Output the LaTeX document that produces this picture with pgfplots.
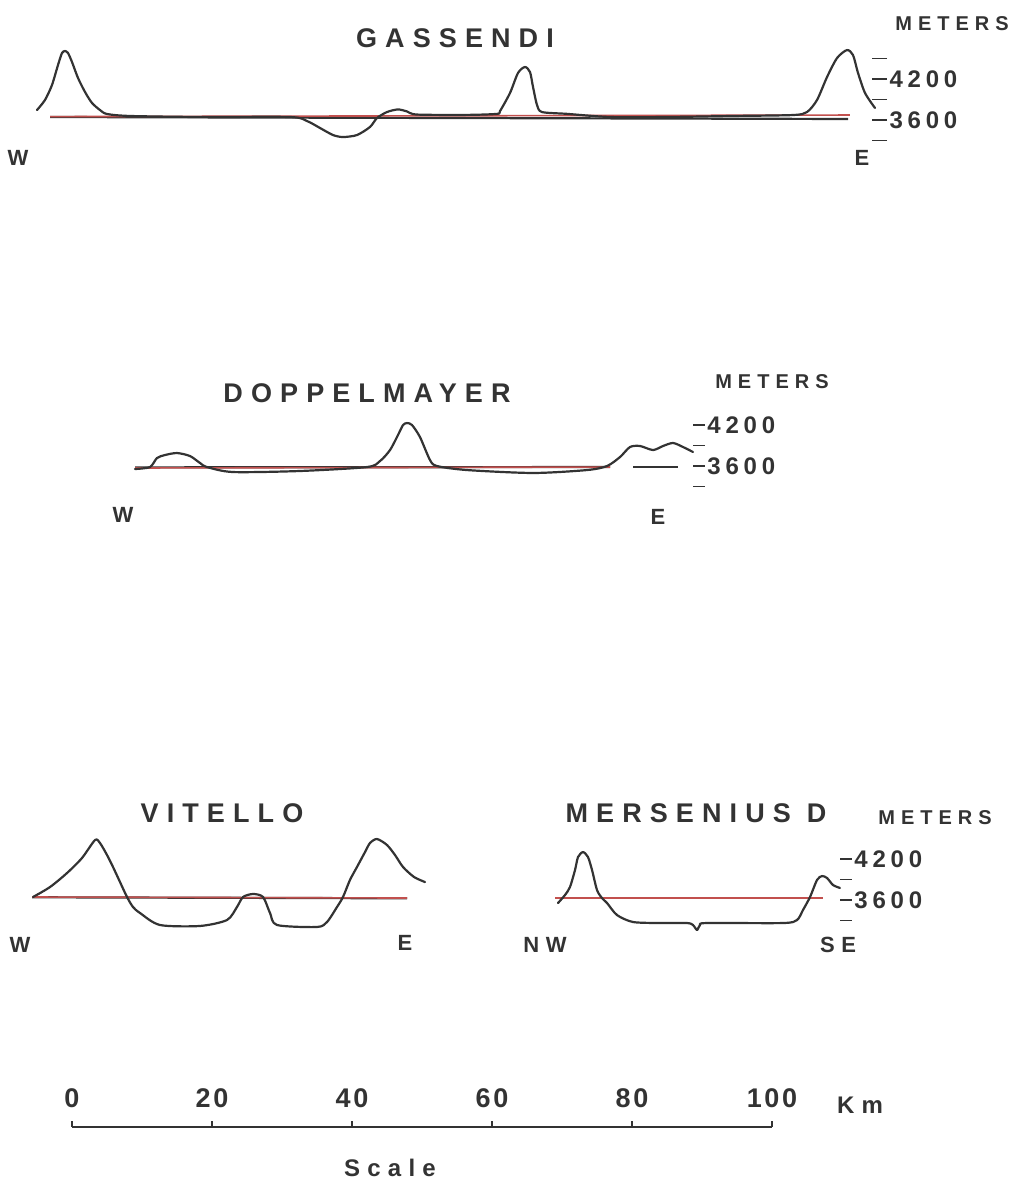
\documentclass[border=0pt]{standalone}
\usepackage{pgfplots}
\pgfplotsset{compat=1.18}
\usepackage{fontspec}
\setmainfont{Liberation Sans}
\newfontfamily\ls[LetterSpace=30]{Liberation Sans}
\newfontfamily\lsd[LetterSpace=20]{Liberation Sans}
\newfontfamily\lsn[LetterSpace=10]{Liberation Sans}
\definecolor{ink}{HTML}{333333}
\definecolor{redline}{HTML}{C2504E}

\pgfplotsset{
  profile/.style={
    x=3.5pt, y=0.034167pt, xmin=-10, clip=false,
    axis x line=none, axis y line*=right, y axis line style={draw=none},
    tick align=outside, major tick style={ink, line width=0.9pt},
    yticklabel style={font=\lsd\bfseries\fontsize{12}{12}\selectfont, text=ink, anchor=west, inner sep=1pt},
  },
  prof/.style={ink, line width=1.1pt, smooth, tension=0.45, line join=round, line cap=round, no marks},
  red/.style={redline, line width=0.8pt, no marks},
  base/.style={ink, line width=1.1pt, no marks},
}

\begin{document}
\begin{tikzpicture}
% ---------------- GASSENDI ----------------
\begin{axis}[profile, xmax=114.3, ymin=3200, ymax=4700,
  at={(1pt,-73.67pt)}, anchor=south west,
  ytick={3300,3600,3900,4200,4500}, yticklabels={,3600,,4200,},
  major tick length=7.5pt]
\addplot[base] coordinates {(-3.14,3644) (110.86,3615)};
\addplot[red] coordinates {(-3.14,3650) (111.14,3673)};
\addplot[prof] coordinates {
(-5.0,3746) (-3.86,3893) (-2.86,4112) (-2.0,4405) (-1.43,4580) (-1.0,4610)
(-0.57,4580) (0,4449) (0.86,4215) (1.86,4010) (2.86,3849) (4.0,3746)
(5.0,3688) (8.29,3659) (18.29,3644) (31.14,3644) (33.57,3585) (35.43,3483)
(37.29,3380) (38.71,3351) (40.71,3380) (42.57,3498) (43.57,3629) (45.0,3717)
(46.57,3755) (47.86,3725) (49.29,3680) (56.43,3675) (60.71,3690) (61.14,3730)
(62.57,3995) (63.71,4288) (64.71,4376) (65.43,4302) (65.86,4083) (66.43,3820)
(67.14,3717) (70.71,3690) (76.86,3644) (85.0,3644) (94.43,3659) (103.0,3673)
(105.0,3717) (106.43,3893) (107.86,4229) (109.29,4507) (110.71,4624)
(111.57,4551) (112.29,4288) (113.29,3995) (114.71,3776)};
\end{axis}

% ---------------- DOPPELMAYER ----------------
\begin{axis}[profile, xmax=88.71, ymin=3200, ymax=4400,
  at={(1pt,-246.67pt)}, anchor=south west,
  ytick={3300,3600,3900,4200}, yticklabels={,3600,,4200},
  major tick length=6pt]
\addplot[base] coordinates {(9.0,3580) (76.86,3585)};
\addplot[base] coordinates {(80.14,3585) (86.57,3585)};
\addplot[red] coordinates {(9.0,3571) (76.86,3585)};
\addplot[prof] coordinates {
(9.0,3556) (11.14,3585) (12.14,3717) (13.29,3761) (15.0,3790) (16.86,3746)
(18.29,3644) (19.29,3585) (23.0,3512) (32.57,3527) (42.14,3585) (44.0,3673)
(45.43,3834) (46.57,4054) (47.29,4200) (47.86,4229) (48.57,4200) (49.71,4024)
(51.14,3688) (52.14,3600) (56.43,3541) (65.86,3498) (73.57,3541) (76.43,3600)
(78.29,3732) (79.71,3878) (81.14,3893) (83.0,3834) (84.43,3893) (85.86,3937)
(87.29,3878) (88.71,3805)};
\end{axis}

% ---------------- VITELLO + MERSENIUS D ----------------
\begin{axis}[profile, xmax=109.71, ymin=3100, ymax=4600,
  at={(1pt,-467.08pt)}, anchor=south west,
  ytick={3300,3600,3900,4200}, yticklabels={,3600,,4200},
  major tick length=6pt]
\addplot[base] coordinates {(-5.71,3640) (47.86,3625)};
\addplot[red] coordinates {(-5.71,3644) (47.86,3629)};
\addplot[prof] coordinates {
(-5.57,3644) (-3.14,3790) (-0.71,3995) (1.43,4215) (3.29,4478) (4.0,4434)
(5.0,4259) (5.86,4083) (6.86,3863) (7.86,3644) (8.71,3498) (9.71,3410)
(12.57,3234) (18.29,3220) (22.14,3307) (23.57,3498) (24.43,3644) (25.86,3688)
(27.29,3644) (28.29,3410) (29.29,3234) (35.0,3205) (36.43,3278) (37.86,3498)
(38.71,3644) (39.71,3893) (40.71,4083) (41.86,4302) (42.57,4434) (43.57,4493)
(45.0,4405) (46.14,4259) (47.29,4083) (48.86,3937) (50.43,3863)};
\addplot[red] coordinates {(69.0,3629) (107.29,3629)};
\addplot[prof] coordinates {
(69.43,3556) (70.43,3673) (71.14,3790) (71.86,4039) (72.29,4229) (73.0,4302)
(73.71,4229) (74.29,4039) (75.0,3746) (75.71,3629) (76.43,3556) (77.86,3380)
(80.14,3278) (84.0,3263) (87.86,3263) (88.71,3234) (89.29,3161) (89.71,3234)
(90.71,3263) (101.57,3263) (103.57,3307) (104.43,3454) (105.43,3644)
(106.43,3893) (107.14,3951) (107.86,3922) (108.71,3820) (109.71,3776)};
\end{axis}

% ---------------- SCALE ----------------
\begin{axis}[x=3.5pt, y=10pt, xmin=0, xmax=100, ymin=0, ymax=1,
  at={(36pt,-563.5pt)}, anchor=north west,
  axis x line*=top, hide y axis, x axis line style={-, ink, line width=0.9pt},
  xtick={0,20,40,60,80,100}, xticklabels={0,20,40,60,80,100},
  tick align=outside, major tick length=3pt, major tick style={ink, line width=0.9pt},
  xticklabel style={font=\lsn\bfseries\fontsize{13.5}{13.5}\selectfont, text=ink, yshift=3pt}]
\end{axis}

% ---------------- TEXT ----------------
\begin{scope}[x=0.5pt, y=-0.5pt, every node/.style={text=ink, inner sep=0pt}]
\node[font=\ls\bfseries\fontsize{13.5}{13.5}\selectfont] at (455,38) {GASSENDI};
\node[font=\ls\bfseries\fontsize{10}{10}\selectfont] at (952,24) {METERS};
\node[font=\bfseries\fontsize{11}{11}\selectfont] at (18,158) {W};
\node[font=\bfseries\fontsize{11}{11}\selectfont] at (862,158) {E};

\node[font=\ls\bfseries\fontsize{13.5}{13.5}\selectfont] at (367,393) {DOPPELMAYER};
\node[font=\ls\bfseries\fontsize{10}{10}\selectfont] at (772,382) {METERS};
\node[font=\bfseries\fontsize{11}{11}\selectfont] at (123,515) {W};
\node[font=\bfseries\fontsize{11}{11}\selectfont] at (658,517) {E};

\node[font=\ls\bfseries\fontsize{13.5}{13.5}\selectfont] at (222,813) {VITELLO};
\node[font=\ls\bfseries\fontsize{13.5}{13.5}\selectfont] at (696,813) {MERSENIUS\hspace{8pt}D};
\node[font=\ls\bfseries\fontsize{10}{10}\selectfont] at (935,818) {METERS};
\node[font=\bfseries\fontsize{11}{11}\selectfont] at (20,945) {W};
\node[font=\bfseries\fontsize{11}{11}\selectfont] at (405,943) {E};
\node[font=\ls\bfseries\fontsize{11}{11}\selectfont] at (545,945) {NW};
\node[font=\ls\bfseries\fontsize{11}{11}\selectfont] at (838,945) {SE};

\node[font=\ls\bfseries\fontsize{12}{12}\selectfont] at (860,1105) {Km};
\node[font=\ls\bfseries\fontsize{12}{12}\selectfont] at (390,1168) {Scale};
\end{scope}

\pgfresetboundingbox
\path[use as bounding box] (0,0) rectangle (513.5pt,-591.5pt);
\end{tikzpicture}
\end{document}
